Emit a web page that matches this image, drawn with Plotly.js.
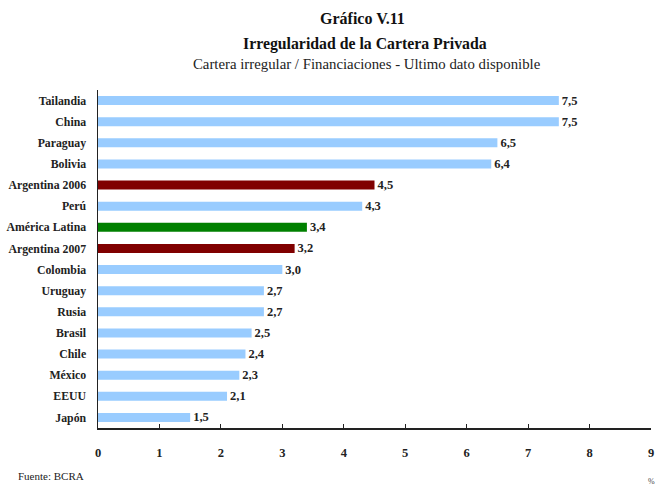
<!DOCTYPE html>
<html>
<head>
<meta charset="utf-8">
<script src="https://cdn.plot.ly/plotly-3.0.1.min.js"></script>
<style>html,body{margin:0;padding:0;background:#fff;}#chart{width:658px;height:486px;}</style>
</head>
<body>
<div id="chart"></div>
<script>
const categories = ["Tailandia","China","Paraguay","Bolivia","Argentina 2006","Perú","América Latina","Argentina 2007","Colombia","Uruguay","Rusia","Brasil","Chile","México","EEUU","Japón"];
const values = [7.5,7.5,6.5,6.4,4.5,4.3,3.4,3.2,3.0,2.7,2.7,2.5,2.4,2.3,2.1,1.5];
const barColors = ["#99ccff","#99ccff","#99ccff","#99ccff","#800000","#99ccff","#008000","#800000","#99ccff","#99ccff","#99ccff","#99ccff","#99ccff","#99ccff","#99ccff","#99ccff"];
const xTicks = [0,1,2,3,4,5,6,7,8,9];

const FONT = "'Liberation Serif', 'Times New Roman', serif";
const labels = values.map(v => v.toFixed(1).replace('.', ','));

const trace = {
  type: 'bar',
  orientation: 'h',
  x: values,
  y: categories,
  marker: {color: barColors, line: {width: 0}},
  text: labels,
  textposition: 'outside',
  constraintext: 'none',
  cliponaxis: false,
  textfont: {family: FONT, size: 12.5, color: '#222', weight: 'bold'},
  hoverinfo: 'none'
};

const layout = {
  width: 658, height: 486,
  margin: {l: 98, r: 7, t: 90, b: 58},
  paper_bgcolor: '#fff', plot_bgcolor: '#fff',
  showlegend: false,
  bargap: 0.57,
  font: {family: FONT, color: '#222'},
  xaxis: {
    range: [0, 9], tickvals: xTicks, ticktext: xTicks.map(String),
    ticks: 'inside', ticklen: 4, tickcolor: '#222', tickwidth: 1,
    showline: true, linecolor: '#222', linewidth: 1.5,
    showgrid: false, zeroline: false,
    ticklabelstandoff: 12,
    tickfont: {family: FONT, size: 12.5, color: '#222', weight: 'bold'},
    fixedrange: true
  },
  yaxis: {
    type: 'category', autorange: 'reversed',
    showline: true, linecolor: '#222', linewidth: 1.5,
    showgrid: false, zeroline: false, ticks: '',
    ticklabelstandoff: 8,
    tickfont: {family: FONT, size: 11.8, color: '#222', weight: 'bold'},
    fixedrange: true
  },
  annotations: [
    {text: '<b>Gráfico V.11</b>', xref: 'paper', yref: 'paper', x: (362-98)/553, y: 1 + (90-18)/338, xanchor: 'center', yanchor: 'middle', showarrow: false, font: {family: FONT, size: 16, color: '#111'}},
    {text: '<b>Irregularidad de la Cartera Privada</b>', xref: 'paper', yref: 'paper', x: (365-98)/553, y: 1 + (90-44)/338, xanchor: 'center', yanchor: 'middle', showarrow: false, font: {family: FONT, size: 15.8, color: '#111'}},
    {text: 'Cartera irregular / Financiaciones - Ultimo dato disponible', xref: 'paper', yref: 'paper', x: (367-98)/553, y: 1 + (90-64)/338, xanchor: 'center', yanchor: 'middle', showarrow: false, font: {family: FONT, size: 14.8, color: '#222'}},
    {text: 'Fuente: BCRA', xref: 'paper', yref: 'paper', x: (16-98)/553, y: -(476-428)/338, xanchor: 'left', yanchor: 'middle', showarrow: false, font: {family: FONT, size: 11, color: '#222'}},
    {text: '%', xref: 'paper', yref: 'paper', x: (657-98)/553, y: -(481-428)/338, xanchor: 'right', yanchor: 'middle', showarrow: false, font: {family: FONT, size: 8, color: '#444'}}
  ]
};

Plotly.newPlot('chart', [trace], layout, {displayModeBar: false, staticPlot: true});
</script>
</body>
</html>
